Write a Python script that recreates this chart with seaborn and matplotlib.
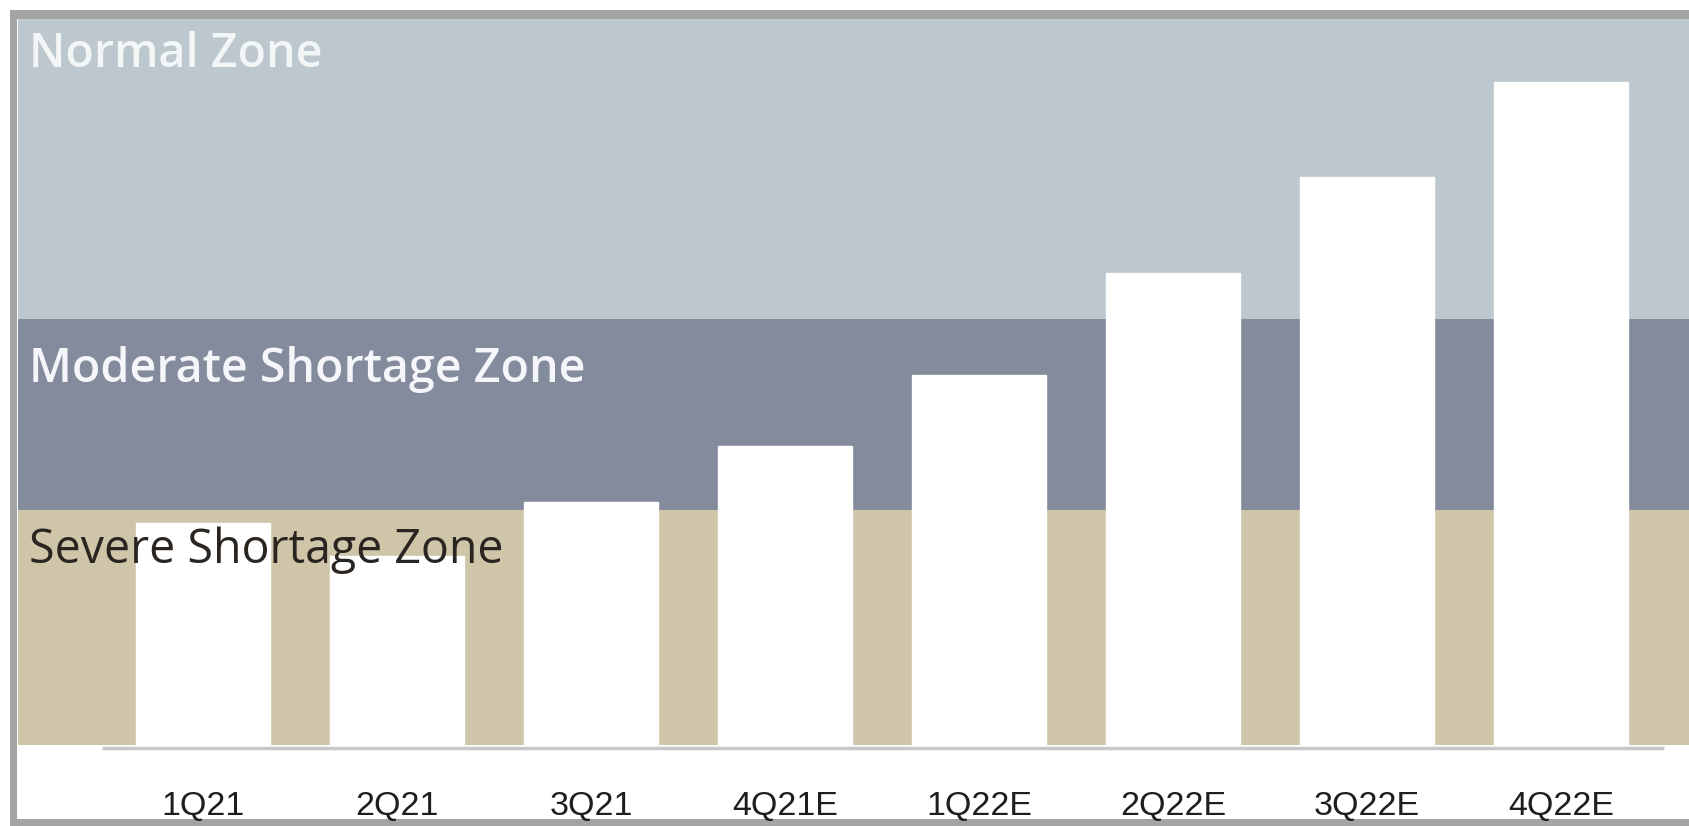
import matplotlib
matplotlib.use("Agg")
import matplotlib.pyplot as plt
from matplotlib.patches import Rectangle
from matplotlib.transforms import blended_transform_factory
import seaborn as sns
import pandas as pd

# Quarterly supply index (bar heights) and zone thresholds
quarters = ["1Q21", "2Q21", "3Q21", "4Q21E", "1Q22E", "2Q22E", "3Q22E", "4Q22E"]
supply_index = [225, 192, 246, 302, 373, 475, 571, 666]

zone_names = ["Severe Shortage Zone", "Moderate Shortage Zone", "Normal Zone"]
zone_bounds = [3, 238, 429, 729]

# Styling
zone_colors = ["#cfc6a9", "#838b9c", "#bcc8cd"]
zone_text_colors = ["#2a2520", "#f4f6f9", "#f2f6f7"]
zone_text_weights = ["normal", "semibold", "semibold"]
zone_text_sizes = [33.5, 33.5, 33.5]
zone_label_baselines = [185, 366, 681]

W, H = 1690, 826
sns.set_theme(style="white")
plt.rcParams["font.family"] = ["Open Sans", "DejaVu Sans"]

fig = plt.figure(figsize=(W / 100, H / 100), dpi=100)
fig.patch.set_facecolor("white")

# grey picture frame
fig.patches.append(Rectangle((10 / W, 0), 1.0, (H - 10) / H, transform=fig.transFigure,
                             facecolor="#a4a4a4", edgecolor="none", zorder=-20))
fig.patches.append(Rectangle((17 / W, 7 / H), 1.0, (H - 19 - 7) / H, transform=fig.transFigure,
                             facecolor="white", edgecolor="none", zorder=-10))

ax = fig.add_axes([18 / W, (H - 748) / H, (W - 18) / W, (748 - 19) / H])
ax.set_facecolor("none")

# background zones
for lo, hi, c in zip(zone_bounds[:-1], zone_bounds[1:], zone_colors):
    ax.axhspan(lo, hi, color=c, lw=0, zorder=0)

df = pd.DataFrame({"quarter": quarters, "value": supply_index})
sns.barplot(data=df, x="quarter", y="value", color="white", saturation=1,
            width=0.69, ax=ax, zorder=2)

ax.set_xlim(-0.9536, 7.665)
ax.set_ylim(0, zone_bounds[-1])

# baseline under the bars
ax.hlines(0, -0.52, 7.53, color="#c8c8c8", lw=2.5, zorder=3, clip_on=False)

for s in ax.spines.values():
    s.set_visible(False)
ax.set_yticks([])
ax.set_xlabel("")
ax.set_ylabel("")
ax.tick_params(axis="x", length=0, pad=31, labelsize=24.5, labelcolor="#1e1e1e")
for lab in ax.get_xticklabels():
    lab.set_fontfamily(["Liberation Sans", "DejaVu Sans"])

# zone captions
tr = blended_transform_factory(ax.transAxes, ax.transData)
for name, yb, tc, fw, fs in zip(zone_names, zone_label_baselines, zone_text_colors,
                                zone_text_weights, zone_text_sizes):
    ax.text(0.0066, yb, name, transform=tr, ha="left", va="baseline",
            fontsize=fs, fontweight=fw, color=tc, zorder=4)

fig.savefig("out.png", dpi=100, facecolor="white")
